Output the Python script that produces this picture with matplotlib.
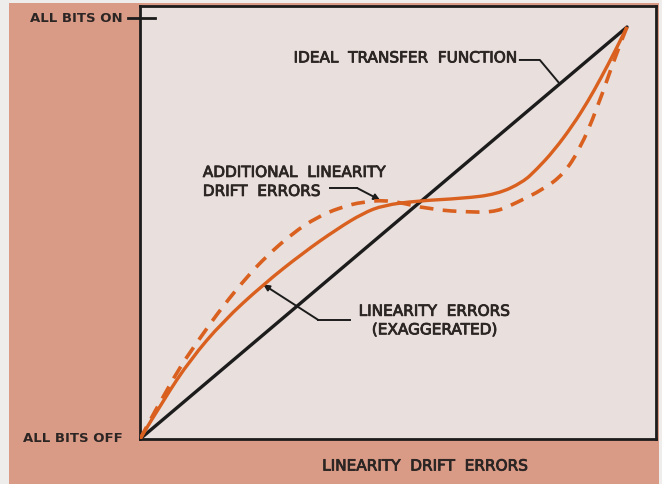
import matplotlib.pyplot as plt
import matplotlib.patheffects as pe
from matplotlib.lines import Line2D
from matplotlib.patches import PathPatch, Rectangle
from matplotlib.path import Path

# digital code (fraction of full scale) vs analog output (fraction of full scale)
ideal_x = [0.0, 1.0]
ideal_y = [0.0, 1.0]

linearity_x = [0.0, 0.05, 0.103, 0.170, 0.253, 0.335, 0.405, 0.458, 0.499, 0.569,
               0.663, 0.733, 0.786, 0.815, 0.850, 0.889, 0.920, 0.945, 0.975, 1.0]
linearity_y = [0.0, 0.098, 0.192, 0.285, 0.375, 0.452, 0.510, 0.548, 0.567, 0.578,
               0.584, 0.594, 0.623, 0.655, 0.700, 0.762, 0.820, 0.873, 0.940, 1.0]

drift_x = [0.0, 0.068, 0.123, 0.170, 0.220, 0.261, 0.314, 0.363, 0.411, 0.458, 0.513,
           0.595, 0.684, 0.733, 0.774, 0.828, 0.869, 0.903, 0.938, 0.979, 1.0]
drift_y = [0.0, 0.150, 0.245, 0.322, 0.394, 0.445, 0.500, 0.538, 0.562, 0.576, 0.580,
           0.557, 0.550, 0.552, 0.574, 0.606, 0.642, 0.703, 0.800, 0.939, 1.0]

SALMON = "#d99a86"
PANEL = "#e9dfdc"
ORANGE = "#d9601e"
INK = "#1c1c1c"
TEXT = "#2b2523"

W, H = 662, 484


def fx(px):
    return px / W


def fy(py):
    return 1 - py / H


def curve(xs, ys):
    # quadratic bezier through the midpoints, so the hand drawn curve stays smooth
    verts = [(xs[0], ys[0])]
    codes = [Path.MOVETO]
    n = len(xs)
    for i in range(1, n - 1):
        if i == n - 2:
            end = (xs[-1], ys[-1])
        else:
            end = ((xs[i] + xs[i + 1]) / 2, (ys[i] + ys[i + 1]) / 2)
        verts += [(xs[i], ys[i]), end]
        codes += [Path.CURVE3, Path.CURVE3]
    return Path(verts, codes)


fig = plt.figure(figsize=(W / 100, H / 100), dpi=100, facecolor="#efecec")
fig.patches.append(Rectangle((fx(9), 0), fx(650), fy(3), transform=fig.transFigure,
                             facecolor=SALMON, edgecolor="none", zorder=-5))

ax = fig.add_axes([fx(140), fy(439), fx(516), (439 - 6) / H])
ax.set_zorder(2)
ax.set_facecolor(PANEL)
ax.set_xlim(0, 516 / 487)
ax.set_ylim(0, 433 / 412)
ax.set_xticks([])
ax.set_yticks([])
for sp in ax.spines.values():
    sp.set_linewidth(2.0)
    sp.set_color(INK)

ax.plot(ideal_x, ideal_y, color=INK, lw=2.4, solid_capstyle="round", zorder=3)
ax.add_patch(PathPatch(curve(linearity_x, linearity_y), fill=False, edgecolor=ORANGE,
                       lw=2.4, zorder=4))
ax.add_patch(PathPatch(curve(drift_x, drift_y), fill=False, edgecolor=ORANGE,
                       lw=2.6, linestyle=(0, (3.8, 2.6)), zorder=4))

heavy = [pe.withStroke(linewidth=0.6, foreground=TEXT)]
font = dict(family="DejaVu Sans", color=TEXT, fontsize=11, path_effects=heavy)

# ideal transfer function label
ax.text(0.774, 0.925, "IDEAL  TRANSFER  FUNCTION", ha="right", va="center", **font)
ax.plot([0.780, 0.821, 0.862], [0.920, 0.920, 0.862], color=INK, lw=1.4)

# drift errors label
ax.text(0.129, 0.647, "ADDITIONAL  LINEARITY", ha="left", va="center", **font)
ax.text(0.129, 0.601, "DRIFT  ERRORS", ha="left", va="center", **font)
ax.plot([0.390, 0.446], [0.609, 0.609], color=INK, lw=1.4)
ax.annotate("", xy=(drift_x[10] - 0.02, drift_y[10]), xytext=(0.446, 0.609),
            arrowprops=dict(arrowstyle="-|>", color=INK, lw=1.4, mutation_scale=9,
                            shrinkA=0, shrinkB=0))

# linearity errors label
ax.text(0.449, 0.310, "LINEARITY  ERRORS", ha="left", va="center", **font)
ax.text(0.476, 0.265, "(EXAGGERATED)", ha="left", va="center", **font)
ax.plot([0.431, 0.366], [0.289, 0.289], color=INK, lw=1.4)
ax.annotate("", xy=(linearity_x[4], linearity_y[4]), xytext=(0.366, 0.289),
            arrowprops=dict(arrowstyle="-|>", color=INK, lw=1.4, mutation_scale=9,
                            shrinkA=0, shrinkB=0))

# outside labels
fig.text(fx(123), fy(18), "ALL BITS ON", ha="right", va="center", fontweight="bold",
         family="DejaVu Sans", fontsize=9.5, color=TEXT)
fig.add_artist(Line2D([fx(128), fx(155)], [fy(18), fy(18)], transform=fig.transFigure,
                      color=INK, lw=2.0, zorder=5))
fig.text(fx(123), fy(438), "ALL BITS OFF", ha="right", va="center", fontweight="bold",
         family="DejaVu Sans", fontsize=9.5, color=TEXT)
fig.text(fx(425), fy(466), "LINEARITY  DRIFT  ERRORS", ha="center", va="center", **font)

fig.savefig("out.png", dpi=100, facecolor=fig.get_facecolor())
